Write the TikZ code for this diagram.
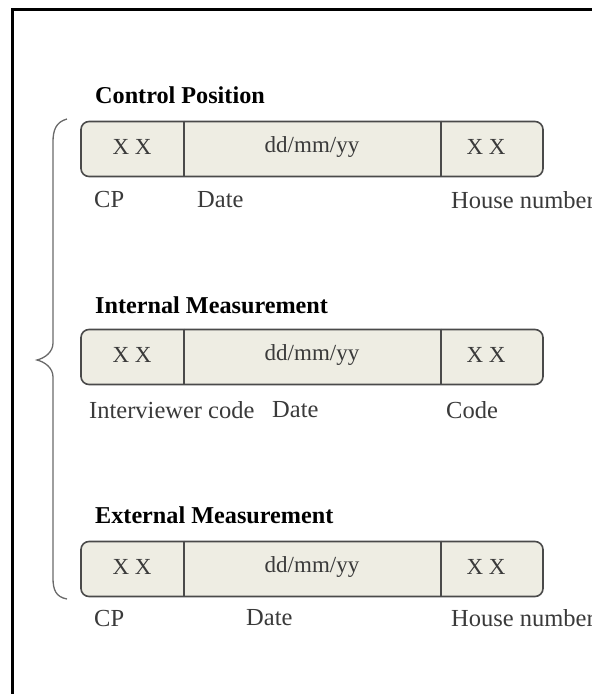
\documentclass[tikz,border=0pt]{standalone}
\usepackage{fontspec}
\setmainfont{Liberation Serif}
\usetikzlibrary{positioning}

\definecolor{fieldfill}{HTML}{EEEDE3}
\definecolor{fieldline}{HTML}{4A4A4A}
\definecolor{labelgray}{HTML}{3A3A3A}
\definecolor{bracegray}{HTML}{6A6A6A}

\tikzset{
  recbox/.style={draw=fieldline,line width=1.6pt,fill=fieldfill,rounded corners=8pt,minimum width=462pt,minimum height=55pt,inner sep=0pt},
  divider/.style={draw=fieldline,line width=1.4pt},
  fieldtext/.style={text=labelgray,font=\fontsize{23}{27}\selectfont,inner sep=0pt},
  fieldlabel/.style={text=labelgray,font=\fontsize{24.5}{29}\selectfont,inner sep=0pt,anchor=west},
  rectitle/.style={font=\fontsize{24.2}{29}\selectfont\bfseries,inner sep=0pt,anchor=west},
}

\begin{document}
\begin{tikzpicture}[x=1pt,y=-1pt]
  \clip (0,0) rectangle (592,694);
  % frame
  \draw[line width=3pt] (12,694) -- (12,9) -- (592,9);

  % Control Position
  \node[rectitle] (cpTitle) at (95,95) {Control Position};
  \node[recbox] (cpBox) at (312,149) {};
  \draw[divider] (cpBox.north -| 184,0) -- (cpBox.south -| 184,0);
  \draw[divider] (cpBox.north -| 441,0) -- (cpBox.south -| 441,0);
  \node[fieldtext] (cpCode) at (132,147) {X X};
  \node[fieldtext] (cpDate) at (312,147) {dd/mm/yy};
  \node[fieldtext] (cpHouse) at (486,147) {X X};
  \node[fieldlabel] (cpCodeLbl) at (94,200) {CP};
  \node[fieldlabel] (cpDateLbl) at (197,200) {Date};
  \node[fieldlabel] (cpHouseLbl) at (451,200) {House number};

  % Internal Measurement
  \node[rectitle] (imTitle) at (95,305) {Internal Measurement};
  \node[recbox] (imBox) at (312,357) {};
  \draw[divider] (imBox.north -| 184,0) -- (imBox.south -| 184,0);
  \draw[divider] (imBox.north -| 441,0) -- (imBox.south -| 441,0);
  \node[fieldtext] (imCode) at (132,355) {X X};
  \node[fieldtext] (imDate) at (312,355) {dd/mm/yy};
  \node[fieldtext] (imHouse) at (486,355) {X X};
  \node[fieldlabel] (imCodeLbl) at (89,410) {Interviewer code};
  \node[fieldlabel] (imDateLbl) at (272,410) {Date};
  \node[fieldlabel] (imHouseLbl) at (446,410) {Code};

  % External Measurement
  \node[rectitle] (emTitle) at (95,515) {External Measurement};
  \node[recbox] (emBox) at (312,569) {};
  \draw[divider] (emBox.north -| 184,0) -- (emBox.south -| 184,0);
  \draw[divider] (emBox.north -| 441,0) -- (emBox.south -| 441,0);
  \node[fieldtext] (emCode) at (132,567) {X X};
  \node[fieldtext] (emDate) at (312,567) {dd/mm/yy};
  \node[fieldtext] (emHouse) at (486,567) {X X};
  \node[fieldlabel] (emCodeLbl) at (94,618) {CP};
  \node[fieldlabel] (emDateLbl) at (246,618) {Date};
  \node[fieldlabel] (emHouseLbl) at (451,618) {House number};

  % brace
  \draw[bracegray,line width=1.3pt] (67,119) .. controls (56,122) and (53,130) .. (53,142) -- (53,343)
    .. controls (53,352) and (45,358) .. (37,360) .. controls (45,362) and (53,368) .. (53,377)
    -- (53,578) .. controls (53,590) and (56,597) .. (67,599);
\end{tikzpicture}
\end{document}
